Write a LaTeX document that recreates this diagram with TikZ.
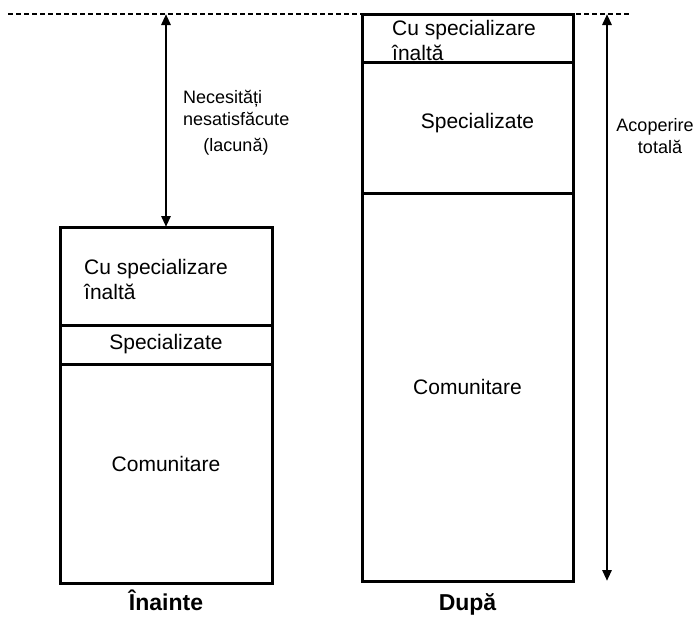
\documentclass[tikz,border=0pt]{standalone}
\usepackage{fontspec}
\setmainfont{Liberation Sans}
\usepackage{xcolor}
\usetikzlibrary{arrows.meta,positioning}
\definecolor{ink}{HTML}{000000}
\newcommand{\bodyfont}{\fontsize{21}{25}\selectfont}
\newcommand{\notefont}{\fontsize{18}{22}\selectfont}
\newcommand{\capfont}{\fontsize{23}{27}\selectfont\bfseries}
\tikzset{
  tier/.style={draw=ink,line width=3pt,inner sep=0pt,outer sep=0pt,
               anchor=north west,minimum width=212pt},
  tiertext/.style={font=\bodyfont,inner sep=0pt,align=left,text=ink},
  notetext/.style={font=\notefont,inner sep=0pt,align=left,text=ink},
  captext/.style={font=\capfont,inner sep=0pt,text=ink,anchor=base},
  gaparr/.style={{Triangle[length=11pt,width=9pt]}-{Triangle[length=11pt,width=9pt]},
                 line width=2.8pt,draw=ink},
  levelline/.style={draw=ink,line width=2pt,dash pattern=on 5pt off 3pt}
}

\begin{document}
\begin{tikzpicture}[x=1pt,y=-1pt]
  \useasboundingbox (0,0) rectangle (696,616);
  % reference level
  \coordinate (level) at (8,14);
  \coordinate (levelend) at (631,14);
  \coordinate (capline) at (0,610);
  \draw[levelline] (level) -- (levelend);

  % before
  \node[tier,minimum height=98pt] (lhigh) at (60,227) {};
  \node[tier,minimum height=39pt,below=0pt of lhigh] (lspec) {};
  \node[tier,minimum height=219pt,below=0pt of lspec] (lcom) {};
  \node[tiertext,anchor=west] (lhightxt) at ([xshift=24pt,yshift=-3pt]lhigh.west)
    {Cu specializare\\înaltă};
  \node[tiertext] (lspectxt) at (lspec.center) {Specializate};
  \node[tiertext] (lcomtxt) at ([yshift=10pt]lcom.center) {Comunitare};
  \node[captext] (before) at (lcom.south |- capline) {Înainte};

  % after
  \node[tier,minimum width=211pt,minimum height=48pt] (rhigh) at (362,14) {};
  \node[tier,minimum width=211pt,minimum height=131pt,below=0pt of rhigh] (rspec) {};
  \node[tier,minimum width=211pt,minimum height=388pt,below=0pt of rspec] (rcom) {};
  \node[tiertext,anchor=west] (rhightxt) at ([xshift=30pt,yshift=-2pt]rhigh.west)
    {Cu specializare\\înaltă};
  \node[tiertext] (rspectxt) at ([xshift=10pt,yshift=4pt]rspec.center) {Specializate};
  \node[tiertext] (rcomtxt) at (rcom.center) {Comunitare};
  \node[captext] (after) at (rcom.south |- capline) {După};

  % gap and coverage
  \coordinate (gaptop) at (lhigh.north |- level);
  \draw[gaparr] (gaptop) -- (lhigh.north);
  \node[notetext,anchor=west] (gaptxt) at (183,108) {Necesități\\nesatisfăcute};
  \node[notetext] (gapnote) at (236,147) {(lacună)};

  \coordinate (covtop) at (607,14);
  \coordinate (covbot) at (607,581);
  \draw[gaparr] (covtop) -- (covbot);
  \node[notetext,align=center] (covtxt) at (655,136) {Acoperire\\\hspace*{10pt}totală};
\end{tikzpicture}
\end{document}
